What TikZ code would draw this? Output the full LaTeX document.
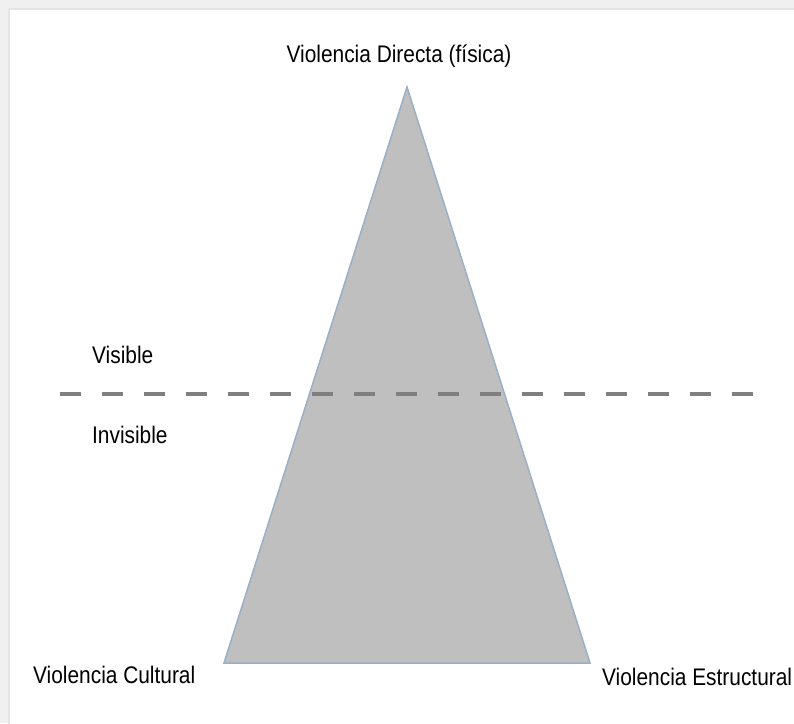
\documentclass[tikz,border=0pt]{standalone}
\usepackage{fontspec}
\setmainfont{Liberation Sans}
\usepackage{xcolor}
\usetikzlibrary{positioning}
\definecolor{triFill}{HTML}{BFBFBF}
\definecolor{triEdge}{HTML}{9AB0C6}
\definecolor{lineGray}{HTML}{7F7F7F}
\definecolor{frameGray}{HTML}{F0F0F0}
\definecolor{frameEdge}{HTML}{E4E4E4}

\begin{document}
\begin{tikzpicture}[x=1pt, y=-1pt,
  lbl/.style={inner sep=0pt, font=\fontsize{24}{28}\selectfont, xscale=0.87}]
\useasboundingbox (0,0) rectangle (794,723);
\fill[frameGray] (0,0) rectangle (794,723);
\filldraw[fill=white, draw=frameEdge, line width=2pt] (9,9) rectangle (797,726);

\coordinate (apex) at (407,87);
\coordinate (baseL) at (224,663);
\coordinate (baseR) at (590,663);
\filldraw[fill=triFill, draw=triEdge, line width=1.5pt] (apex) -- (baseL) -- (baseR) -- cycle;

\coordinate (cutL) at (60,394);
\coordinate (cutR) at (753,394);
\draw[lineGray, line width=4pt, dash pattern=on 21pt off 21pt] (cutL) -- (cutR);

\node[lbl, anchor=base] (directa) at (399,62) {Violencia Directa (física)};
\node[lbl, anchor=base west] (visible) at (92,363) {Visible};
\node[lbl, anchor=base west] (invisible) at (92,443) {Invisible};
\node[lbl, anchor=base west] (cultural) at (33,683) {Violencia Cultural};
\node[lbl, anchor=base west] (estructural) at (602,685) {Violencia Estructural};

\end{tikzpicture}
\end{document}
